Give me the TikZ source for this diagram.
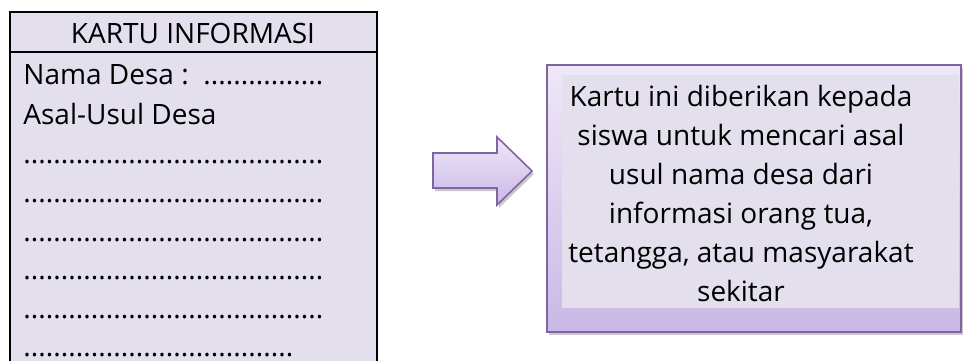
\documentclass[tikz,border=0pt]{standalone}
\usepackage{fontspec}
\setmainfont{Open Sans}
\usetikzlibrary{shadows}

\definecolor{cardfill}{HTML}{E4DFEC}
\definecolor{lilac}{HTML}{8064A2}
\definecolor{liltop}{HTML}{EEE8F8}
\definecolor{lilbot}{HTML}{C9B8E6}

% baris teks dengan titik-titik sampai lebar tertentu
\newcommand{\dotrow}[2]{\makebox[#1][l]{#2\leaders\hbox to 3.75pt{\hss.\hss}\hfill}}

\tikzset{
  cardtext/.style={anchor=base west, inner sep=0pt,
    font=\fontsize{14}{19.5}\selectfont},
  softshadow/.style={drop shadow={shadow xshift=1pt, shadow yshift=-1.5pt,
    opacity=0.35, fill=black!60}}
}

\begin{document}
\begin{tikzpicture}[x=0.5pt,y=-0.5pt]
    \useasboundingbox (0,0) rectangle (963,360);
    \clip (0,0) rectangle (963,360);

    % kartu
    \draw[line width=1pt, fill=cardfill] (10,12) rectangle (377,380);
    \draw[line width=1pt] (10,52) -- (377,52);
    \node[cardtext, anchor=base] (judul) at (193,43) {KARTU INFORMASI};
    \node[cardtext] (nama) at (23,84) {\dotrow{152pt}{Nama Desa : }};
    \node[cardtext] (asal) at (23,124) {Asal-Usul Desa};
    \foreach \y/\w [count=\i] in {163/151pt, 202/151pt, 241/151pt,
                                  279/151pt, 318/151pt, 356/136pt} {
      \node[cardtext] (baris\i) at (23,\y) {\dotrow{\w}{}};
    } ;

    % panah
    \draw[lilac, line width=0.8pt, top color=liltop, bottom color=lilbot,
      softshadow]
      (433,153) -- (497,153) -- (497,137) -- (532,171) -- (497,205)
      -- (497,188) -- (433,188) -- cycle;

    % keterangan
    \draw[lilac, line width=0.8pt, top color=liltop, bottom color=lilbot,
      softshadow] (547,65) rectangle (961,332);
    \fill[cardfill] (562,75) rectangle (959,308);
    \node[align=center, inner sep=0pt, anchor=base,
      font=\fontsize{14}{19.5}\selectfont] (ket) at (741,301)
      {Kartu ini diberikan kepada\\ siswa untuk mencari asal\\
       usul nama desa dari\\ informasi orang tua,\\
       tetangga, atau masyarakat\\ sekitar};
\end{tikzpicture}
\end{document}
